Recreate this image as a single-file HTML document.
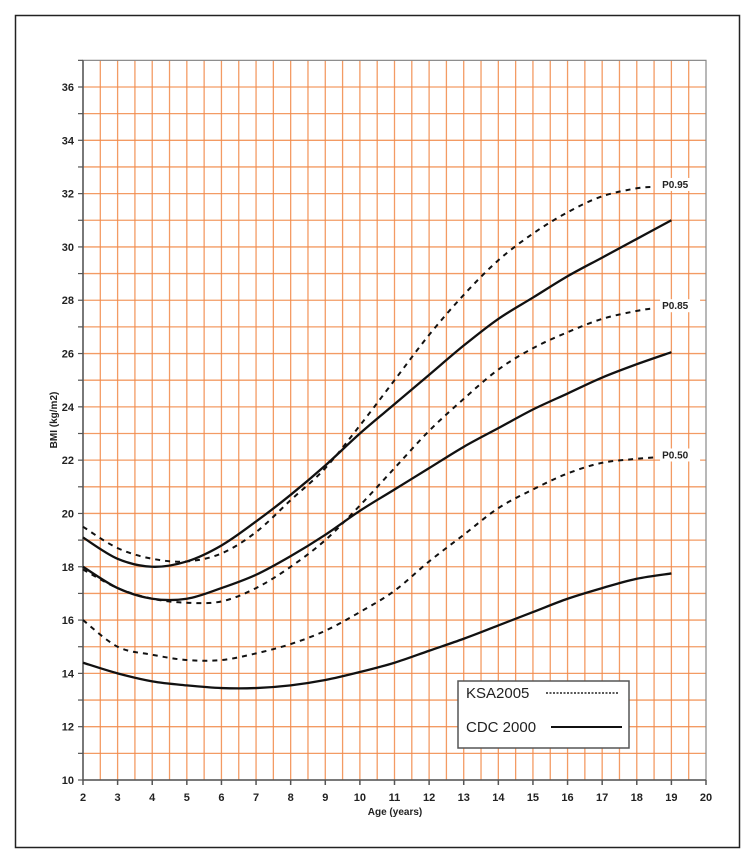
<!DOCTYPE html>
<html><head><meta charset="utf-8"><style>
body{margin:0;background:#fff;}
svg{display:block;font-family:"Liberation Sans",sans-serif;}
</style></head><body>
<svg id="chart" width="755" height="864" viewBox="0 0 755 864">
<rect x="15.5" y="15.5" width="724" height="832" fill="#fff" stroke="#222" stroke-width="1.5"/>
<g id="grid"></g><g id="axes"></g><g id="series"></g>
<g>
<rect x="458" y="681" width="171" height="67" fill="#fff" stroke="#555" stroke-width="1.5"/>
<text x="466" y="698" font-size="15" fill="#222">KSA2005</text>
<line x1="546" y1="693" x2="618" y2="693" stroke="#222" stroke-width="1.5" stroke-dasharray="2 1.5"/>
<text x="466" y="732" font-size="15" fill="#222">CDC 2000</text>
<line x1="551" y1="727" x2="622" y2="727" stroke="#111" stroke-width="2"/>
</g>
<text transform="translate(57,420) rotate(-90)" text-anchor="middle" font-size="10" font-weight="bold" fill="#222">BMI (kg/m2)</text>
<text x="395" y="815" text-anchor="middle" font-size="10" font-weight="bold" fill="#222">Age (years)</text>
</svg>
<script>
const ages=[2,3,4,5,6,7,8,9,10,11,12,13,14,15,16,17,18,19];
const ksaAges=[2,3,4,5,6,7,8,9,10,11,12,13,14,15,16,17,18,18.5];
const cdc95=[19.1,18.3,18.0,18.2,18.8,19.7,20.7,21.8,23.0,24.1,25.2,26.3,27.3,28.1,28.9,29.6,30.3,31.0];
const cdc85=[18.0,17.2,16.8,16.8,17.2,17.7,18.4,19.2,20.1,20.9,21.7,22.5,23.2,23.9,24.5,25.1,25.6,26.05];
const cdc50=[14.4,14.0,13.7,13.55,13.45,13.45,13.55,13.75,14.05,14.4,14.85,15.3,15.8,16.3,16.8,17.2,17.55,17.75];
const ksa95=[19.5,18.7,18.3,18.2,18.5,19.3,20.5,21.7,23.3,25.0,26.7,28.2,29.5,30.5,31.3,31.9,32.2,32.25];
const ksa85=[17.9,17.2,16.8,16.65,16.7,17.2,18.0,19.0,20.3,21.7,23.1,24.3,25.4,26.2,26.8,27.3,27.6,27.7];
const ksa50=[16.0,15.0,14.7,14.5,14.5,14.75,15.1,15.6,16.3,17.1,18.2,19.2,20.2,20.9,21.5,21.9,22.05,22.1];
const xTicks=[2,3,4,5,6,7,8,9,10,11,12,13,14,15,16,17,18,19,20];
const yTicks=[10,12,14,16,18,20,22,24,26,28,30,32,34,36];
const labels=["P0.95","P0.85","P0.50"];
const X=a=>83+(a-2)*(623/18);
const Y=v=>780-(v-10)*(693/26);
const NS='http://www.w3.org/2000/svg';
function mk(p,t,at){const e=document.createElementNS(NS,t);for(const k in at)e.setAttribute(k,at[k]);p.appendChild(e);return e;}
const grid=document.getElementById('grid'),axes=document.getElementById('axes'),ser=document.getElementById('series');
for(let a=2.5;a<=19.5;a+=0.5){const l=mk(grid,'line',{x1:X(a),x2:X(a),y1:Y(37),y2:Y(10),stroke:'#f28a4a','stroke-width':1.3,opacity:0.85});

}
for(let v=11;v<=36;v++){const l=mk(grid,'line',{x1:X(2),x2:X(20),y1:Y(v),y2:Y(v),stroke:'#f28a4a','stroke-width':1.3,opacity:0.85});

}
const fr=mk(axes,'rect',{x:X(2),y:Y(37),width:X(20)-X(2),height:Y(10)-Y(37),fill:'none',stroke:'#888','stroke-width':1.2});


const la=mk(axes,'path',{d:`M${X(2)},${Y(37)}V${Y(10)}H${X(20)}`,fill:'none',stroke:'#555','stroke-width':1.5});


xTicks.forEach(a=>{mk(axes,'line',{x1:X(a),x2:X(a),y1:Y(10),y2:Y(10)+5,stroke:'#555','stroke-width':1.5});
const t=mk(axes,'text',{x:X(a),y:Y(10)+21,'text-anchor':'middle','font-size':11,'font-weight':'bold',fill:'#222'});t.textContent=a;

});
for(let v=10;v<=37;v++)mk(axes,'line',{x1:X(2)-5,x2:X(2),y1:Y(v),y2:Y(v),stroke:'#555','stroke-width':1.2});
yTicks.forEach(v=>{const t=mk(axes,'text',{x:X(2)-9,y:Y(v)+4,'text-anchor':'end','font-size':11,'font-weight':'bold',fill:'#222'});t.textContent=v;

});
function path(xs,ys){const p=xs.map((a,i)=>[X(a),Y(ys[i])]);let d=`M${p[0][0]},${p[0][1]}`;
for(let i=0;i<p.length-1;i++){const p0=p[i-1]||p[i],p1=p[i],p2=p[i+1],p3=p[i+2]||p2;
d+=`C${p1[0]+(p2[0]-p0[0])/6},${p1[1]+(p2[1]-p0[1])/6} ${p2[0]-(p3[0]-p1[0])/6},${p2[1]-(p3[1]-p1[1])/6} ${p2[0]},${p2[1]}`;}return d;}
[[cdc95,'cdc-p95'],[cdc85,'cdc-p85'],[cdc50,'cdc-p50']].forEach(([s,n])=>{const e=mk(ser,'path',{d:path(ages,s),fill:'none',stroke:'#111','stroke-width':2.3});

});
[[ksa95,'ksa-p95'],[ksa85,'ksa-p85'],[ksa50,'ksa-p50']].forEach(([s,n],i)=>{const e=mk(ser,'path',{d:path(ksaAges,s),fill:'none',stroke:'#111','stroke-width':2,'stroke-dasharray':'5 5'});


const lx=X(ksaAges[ksaAges.length-1])+8,ly=Y(s[s.length-1]);
mk(ser,'rect',{x:lx-2,y:ly-9,width:40,height:13,fill:'#fff'});
const t=mk(ser,'text',{x:lx,y:ly+1,'font-size':10,'font-weight':'bold',fill:'#222'});t.textContent=labels[i];

});
</script>
</body></html>
